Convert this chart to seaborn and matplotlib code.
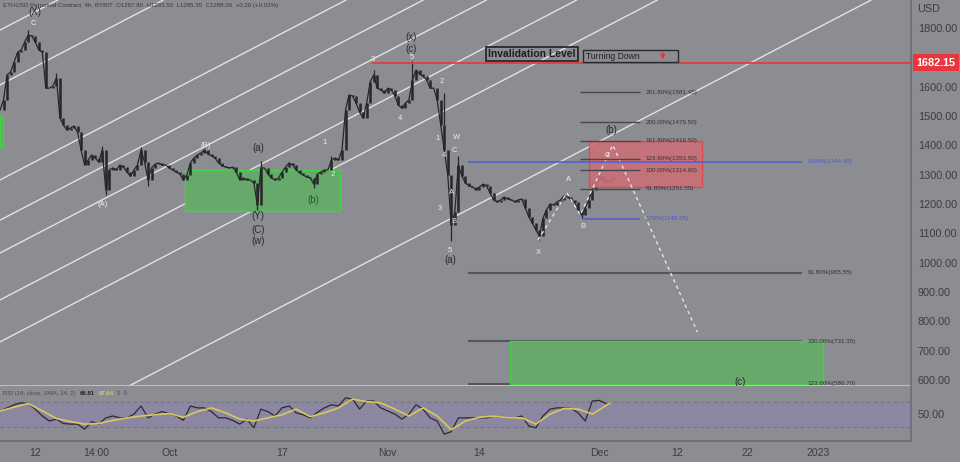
import numpy as np
import pandas as pd
import seaborn as sns
import matplotlib.pyplot as plt
import matplotlib.dates as mdates
from matplotlib.patches import Rectangle

sns.set_theme(style="white")
plt.rcParams['font.family'] = ['Liberation Sans', 'DejaVu Sans']

BG = '#8b8d93'
DARK = '#2b2b2d'
WHITE = '#ececec'

# ---- price data: 12h closes, starting 2022-09-07 00:00
start = pd.Timestamp('2022-09-07')
closes = [
    1520, 1555, 1640, 1650, 1684, 1718, 1725, 1752, 1776, 1773,
    1752, 1725, 1718, 1595, 1595, 1602, 1630, 1493, 1469, 1452,
    1459, 1466, 1445, 1384, 1333, 1350, 1367, 1357, 1343, 1384,
    1248, 1316, 1323, 1316, 1333, 1326, 1309, 1295, 1316, 1333,
    1384, 1343, 1282, 1323, 1336, 1340, 1333, 1333, 1323, 1316,
    1309, 1302, 1282, 1299, 1340, 1357, 1367, 1374, 1384, 1370,
    1364, 1357, 1340, 1330, 1326, 1323, 1326, 1309, 1282, 1289,
    1282, 1282, 1272, 1197, 1323, 1323, 1302, 1289, 1282, 1289,
    1309, 1326, 1340, 1333, 1316, 1306, 1299, 1292, 1289, 1268,
    1302, 1309, 1316, 1316, 1350, 1357, 1350, 1384, 1520, 1572,
    1568, 1544, 1513, 1493, 1544, 1616, 1640, 1595, 1589, 1578,
    1595, 1589, 1568, 1537, 1527, 1544, 1555, 1623, 1657, 1643,
    1636, 1623, 1595, 1595, 1555, 1469, 1384, 1299, 1128, 1173,
    1333, 1295, 1272, 1262, 1258, 1248, 1258, 1268, 1262, 1238,
    1214, 1207, 1214, 1224, 1217, 1214, 1207, 1214, 1217, 1187,
    1156, 1135, 1111, 1091, 1152, 1180, 1200, 1197, 1207, 1214,
    1228, 1224, 1214, 1207, 1180, 1163, 1187, 1214, 1248, 1282,
    1299, 1282, 1275, 1282, 1288,
]
wick_hi = {8: 1792, 16: 1645, 29: 1398, 40: 1396, 58: 1392, 74: 1346,
           94: 1362, 106: 1658, 117: 1686, 126: 1580, 130: 1362, 170: 1308}
wick_lo = {30: 1232, 42: 1262, 73: 1178, 89: 1255, 128: 1075, 153: 1077,
           165: 1152}

# ---- RSI (daily reading) and its SMA (every 2 days)
rsi_vals = [
    55, 60, 65, 68, 67, 58, 47, 39, 42, 35, 34, 34, 26, 38, 34, 44, 47, 44,
    44, 50, 63, 44, 50, 54, 51, 47, 40, 63, 60, 60, 54, 44, 44, 40, 34, 42,
    28, 58, 54, 47, 60, 63, 52, 49, 44, 53, 60, 65, 63, 76, 74, 58, 71, 71,
    60, 55, 50, 42, 50, 65, 58, 44, 39, 18, 22, 44, 44, 44, 44, 44, 47, 45,
    44, 44, 47, 31, 28, 47, 58, 60, 60, 59, 52, 39, 71, 72, 66.81,
]
rsi_sma = [
    55, 61, 67, 55, 43, 38, 34, 35, 40, 44, 47, 49, 51, 45, 54, 60, 52, 42,
    39, 44, 49, 58, 46, 52, 60, 74, 70, 68, 58, 47, 60, 47, 25, 39, 45, 47,
    44, 44, 34, 50, 59, 58, 50, 67.64,
]

# ---- drawing-tool levels
upper_fib_names = ['261.80%', '200.00%', '161.80%', '123.60%', '100.00%', '61.80%']
upper_fib_prices = [1581.45, 1479.50, 1416.50, 1353.50, 1314.60, 1251.55]
upper_fib_zero = 1149.65
lower_fib_names = ['61.80%', '100.00%', '123.60%']
lower_fib_prices = [965.55, 731.35, 586.70]
lower_fib_zero = 1344.40
invalidation = 1682.15
channel_at_start = [1793, 1606, 1282, 1145, 1033, 873, 730, 351]  # price at Sep 7
channel_slope = 12.5  # USD per day

proj_days = [76.3, 80.4, 82.3, 86.9, 98.9]
proj_prices = [1077, 1238, 1163, 1401, 764]

wave_labels = [
    ('(X)', 5.0, 1855, DARK), ('C', 4.8, 1814, WHITE), ('(A)', 14.6, 1197, WHITE),
    ('(B)', 29.2, 1401, WHITE), ('(a)', 36.6, 1391, DARK), ('(Y)', 36.6, 1159, DARK),
    ('(C)', 36.6, 1111, DARK), ('(w)', 36.6, 1074, DARK), ('(b)', 44.4, 1214, '#2f5a30'),
    ('1', 46.0, 1411, WHITE), ('2', 47.2, 1302, WHITE), ('3', 52.8, 1694, WHITE),
    ('4', 56.7, 1493, WHITE), ('5', 58.4, 1698, WHITE), ('(x)', 58.3, 1769, DARK),
    ('(c)', 58.3, 1728, DARK), ('2', 62.7, 1616, WHITE), ('1', 62.0, 1422, WHITE),
    ('W', 64.8, 1428, WHITE), ('C', 64.5, 1384, WHITE), ('4', 63.0, 1364, WHITE),
    ('A', 64.1, 1238, WHITE), ('3', 62.4, 1186, WHITE), ('B', 64.4, 1139, WHITE),
    ('5', 63.8, 1043, WHITE), ('(a)', 63.8, 1009, DARK), ('X', 76.3, 1036, WHITE),
    ('A', 80.7, 1282, WHITE), ('B', 82.7, 1125, WHITE), ('C', 86.2, 1364, WHITE),
    ('(b)', 86.7, 1452, DARK), ('(c)', 105.0, 593, DARK),
]

tick_days = [5, 13.583, 24, 40, 55, 68, 85, 96, 106, 116]
tick_names = ['12', '14:00', 'Oct', '17', 'Nov', '14', 'Dec', '12', '22', '2023']


def day(d):
    return start + pd.to_timedelta(d, unit='D')


times = pd.date_range(start, periods=len(closes), freq='12h')
opens = [closes[0]] + closes[:-1]

fig = plt.figure(figsize=(9.6, 4.62), dpi=100, facecolor=BG)
ax = fig.add_axes([0, 76 / 462, 911 / 960, 386 / 462], facecolor=BG)
rx = fig.add_axes([0, 21 / 462, 911 / 960, 55 / 462], facecolor=BG, sharex=ax)

# channel lines
for p in channel_at_start:
    ax.axline((mdates.date2num(start), p), slope=channel_slope,
              color='#e2e2e4', lw=1.0, zorder=1)

# boxes
green_face, green_edge = '#66a96a', '#45d045'
ax.add_patch(Rectangle((mdates.date2num(day(26.2)), 1176), 22.0, 140,
                       facecolor=green_face, edgecolor=green_edge, lw=1, zorder=2))
ax.add_patch(Rectangle((mdates.date2num(day(0)), 1391), 0.45, 112,
                       facecolor=green_face, edgecolor=green_edge, lw=1, zorder=2))
ax.add_patch(Rectangle((mdates.date2num(day(72.3)), lower_fib_prices[2]), 44.4,
                       lower_fib_prices[1] - lower_fib_prices[2],
                       facecolor=green_face, edgecolor=green_edge, lw=1, zorder=2))
ax.add_patch(Rectangle((mdates.date2num(day(83.5)), 1258), 16.1, upper_fib_prices[2] - 1258,
                       facecolor='#c97076', edgecolor='#e2474d', lw=1, zorder=4, alpha=0.9))

# candles
ax.plot(times, closes, color='#262628', lw=0.9, zorder=3)
ax.vlines(times, np.minimum(opens, closes), np.maximum(opens, closes),
          color='#262628', lw=1.8, zorder=3)
hi_t = [times[i] for i in wick_hi]
ax.vlines(hi_t, [max(opens[i], closes[i]) for i in wick_hi], list(wick_hi.values()),
          color='#262628', lw=0.9, zorder=3)
lo_t = [times[i] for i in wick_lo]
ax.vlines(lo_t, list(wick_lo.values()), [min(opens[i], closes[i]) for i in wick_lo],
          color='#262628', lw=0.9, zorder=3)

# invalidation line
ax.hlines(invalidation, day(52.8), day(140), color='#e8363c', lw=1.2, zorder=5)
ax.annotate(f'{invalidation:.2f}', xy=(1.027, invalidation),
            xycoords=('axes fraction', 'data'), ha='center', va='center',
            fontsize=7.8, color='white', fontweight='bold', annotation_clip=False,
            bbox=dict(boxstyle='square,pad=0.32', fc='#e8363c', ec='none'))
ax.text(day(69.2), 1710, 'Invalidation Level', fontsize=7.5, fontweight='bold',
        color='#1e1e20', va='center', ha='left', zorder=6,
        bbox=dict(boxstyle='square,pad=0.2', fc='none', ec='#2a2a2c', lw=1.3))
ax.add_patch(Rectangle((mdates.date2num(day(82.7)), 1684), 13.5, 41,
                       fill=False, edgecolor='#2a2a2c', lw=1, zorder=6))
ax.text(day(83.1), 1703, 'Turning Down', fontsize=6.2, color='#1e1e20',
        va='center', ha='left', zorder=6)
ax.annotate('', xy=(day(94.0), 1683), xytext=(day(94.0), 1724),
            arrowprops=dict(arrowstyle='-|>', color='#e8363c', lw=1.2, mutation_scale=6),
            zorder=7)

# fibonacci levels (upper)
for name, p in zip(upper_fib_names, upper_fib_prices):
    ax.hlines(p, day(82.3), day(90.8), color='#48484c', lw=1.0, zorder=5)
    ax.text(day(91.5), p, f'{name}({p:.2f})', fontsize=4.5, color='#333336',
            va='center', zorder=6)
ax.hlines(upper_fib_zero, day(82.7), day(90.8), color='#4f5bd5', lw=1.1, zorder=5)
ax.text(day(91.5), upper_fib_zero, f'0.00%({upper_fib_zero:.2f})', fontsize=4.5,
        color='#4b57d6', va='center', zorder=6)

# fibonacci levels (lower)
ax.hlines(lower_fib_zero, day(66.4), day(113.8), color='#4f5bd5', lw=1.1, zorder=5)
ax.text(day(114.5), lower_fib_zero, f'0.00%({lower_fib_zero:.2f})', fontsize=4.5,
        color='#4b57d6', va='center', zorder=6)
for name, p in zip(lower_fib_names, lower_fib_prices):
    ax.hlines(p, day(66.4), day(113.8), color='#55555a', lw=1.5, zorder=1.5)
    ax.text(day(114.5), p, f'{name}({p:.2f})', fontsize=4.5, color='#333336',
            va='center', zorder=6)

# projected path
ax.plot([day(d) for d in proj_days], proj_prices, color='#e6e6e6', lw=1.0,
        ls=(0, (2.5, 2.5)), zorder=4)

# wave labels
for txt, d, p, c in wave_labels:
    big = c != WHITE
    ax.text(day(d), p, txt, fontsize=7 if big else 5.5, color=c,
            ha='center', va='center', zorder=6)

# price axis
ax.set_ylim(579.6, 1895.5)
ax.set_xlim(start, day(129.2))
ax.yaxis.tick_right()
ax.set_yticks([600, 700, 800, 900, 1000, 1100, 1200, 1300, 1400, 1500, 1600, 1800])
ax.yaxis.set_major_formatter(plt.FuncFormatter(lambda v, _: f'{v:.2f}'))
ax.tick_params(axis='y', length=0, pad=5, labelsize=7.8, labelcolor='#3b3d42')
ax.tick_params(axis='x', length=0, labelbottom=False)
for s in ['top', 'left']:
    ax.spines[s].set_visible(False)
ax.spines['right'].set_color('#6c6e74')
ax.spines['bottom'].set_color('#c9cace')
ax.spines['bottom'].set_linewidth(1.2)

fig.text(917 / 960, 1 - 9 / 462, 'USD', fontsize=7.8, color='#3b3d42', va='center')
fig.text(3 / 960, 1 - 6 / 462,
         'ETHUSD Perpetual Contract, 4h, BYBIT  O1287.80  H1293.55  L1285.35  C1288.00  +0.20 (+0.02%)',
         fontsize=4.4, color='#3a3b40', va='center')

# RSI panel
rx.axhspan(30, 70, color='#8c87a2', zorder=0)
for lv in (70, 30):
    rx.axhline(lv, color='#75757c', lw=0.8, ls=(0, (3, 3)), zorder=1)
rx.axhline(50, color='#7d7b90', lw=0.6, ls=(0, (1, 3)), zorder=1)
sns.lineplot(x=[day(i) for i in range(len(rsi_vals))], y=rsi_vals, ax=rx,
             color='#2c2c2e', lw=0.9, zorder=3)
sns.lineplot(x=[day(2 * i) for i in range(len(rsi_sma) - 1)] + [day(86.5)], y=rsi_sma,
             ax=rx, color='#d9c85e', lw=1.2, zorder=4)
rx.set_ylim(7, 95)
rx.yaxis.tick_right()
rx.set_yticks([50])
rx.set_yticklabels(['50.00'])
rx.tick_params(axis='y', length=0, pad=5, labelsize=7.8, labelcolor='#3b3d42')
rx.set_xticks([day(d) for d in tick_days])
rx.set_xticklabels(tick_names)
rx.tick_params(axis='x', length=0, pad=5, labelsize=7.5, labelcolor='#3b3d42')
rx.set_xlim(start, day(129.2))
rx.set_xlabel('')
rx.set_ylabel('')
for s in ['top', 'left']:
    rx.spines[s].set_visible(False)
rx.spines['right'].set_color('#6c6e74')
rx.spines['bottom'].set_color('#6c6e74')

rx.text(3 / 911, 0.86, 'RSI (14, close, SMA, 14, 2)', transform=rx.transAxes,
        fontsize=4.3, color='#4a4b52', va='center')
rx.text(80 / 911, 0.86, '66.81', transform=rx.transAxes, fontsize=4.3, color='#262628',
        va='center', fontweight='bold')
rx.text(99 / 911, 0.86, '67.64', transform=rx.transAxes, fontsize=4.3, color='#d9c85e',
        va='center', fontweight='bold')
rx.text(117 / 911, 0.86, '0  0', transform=rx.transAxes, fontsize=4.3, color='#4a4b52',
        va='center')

fig.savefig('out.png', dpi=100, facecolor=BG)
